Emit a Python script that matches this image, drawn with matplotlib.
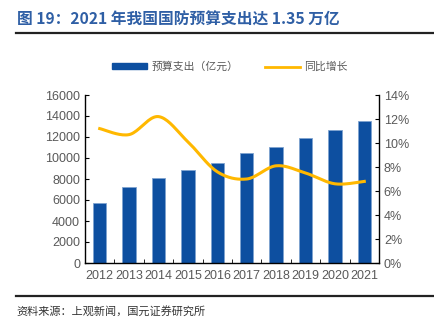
import matplotlib
matplotlib.use("Agg")
import matplotlib.pyplot as plt
import numpy as np
from matplotlib.lines import Line2D
from matplotlib.patches import Patch

plt.rcParams['font.family'] = ['Noto Sans CJK SC', 'DejaVu Sans']

years = ['2012', '2013', '2014', '2015', '2016', '2017', '2018', '2019', '2020', '2021']
budget = [5750, 7200, 8080, 8870, 9540, 10440, 11070, 11900, 12680, 13550]
growth = [11.2, 10.7, 12.2, 10.1, 7.6, 7.0, 8.1, 7.5, 6.6, 6.8]

bar_color = '#0D4FA0'
line_color = '#FFB800'
txt_gray = '#595959'
num_font = ['Liberation Sans', 'DejaVu Sans']

fig = plt.figure(figsize=(4.35, 3.21), dpi=100)
ax = fig.add_axes([85/435, 1-263/321, (379-85)/435, (263-95)/321])
x = np.arange(len(years))
ax.bar(x, budget, width=0.45, color=bar_color, edgecolor='#7FA3D0', linewidth=0.6, zorder=2)
ax.set_xlim(-0.5, len(years)-0.5)
ax.set_ylim(0, 16000)
ax.set_yticks(np.arange(0, 16001, 2000))
ax.set_xticks(x)
ax.set_xticklabels(years)
ax.set_xticks(np.arange(0.5, len(years)-0.5, 1), minor=True)
ax.tick_params(axis='x', which='major', length=0, labelsize=9, colors=txt_gray, pad=5)
ax.tick_params(axis='x', which='minor', direction='in', length=3, color='black')
ax.tick_params(axis='y', direction='in', length=3, labelsize=9, labelcolor=txt_gray, color='black')
for s in ['top', 'right']:
    ax.spines[s].set_visible(False)
for s in ['left', 'bottom']:
    ax.spines[s].set_color('black')
    ax.spines[s].set_linewidth(1)

ax2 = ax.twinx()
ax2.set_ylim(0, 14)
ax2.set_yticks(np.arange(0, 15, 2))
ax2.set_yticklabels([f'{v}%' for v in range(0, 15, 2)])
ax2.tick_params(axis='y', direction='in', length=3, labelsize=9, labelcolor=txt_gray, color='black')
for s in ['top', 'left', 'bottom']:
    ax2.spines[s].set_visible(False)
ax2.spines['right'].set_color('black')
ax2.spines['right'].set_linewidth(1)

for lab in ax.get_xticklabels() + ax.get_yticklabels() + ax2.get_yticklabels():
    lab.set_family(num_font)

# smooth display curve (Catmull-Rom) through the data points
def smooth(xs, ys, n=20):
    xs = np.asarray(xs, float); ys = np.asarray(ys, float)
    P = np.column_stack([xs, ys])
    P = np.vstack([P[0], P, P[-1]])
    out = []
    for i in range(1, len(P)-2):
        p0, p1, p2, p3 = P[i-1], P[i], P[i+1], P[i+2]
        for t in np.linspace(0, 1, n, endpoint=False):
            t2, t3 = t*t, t*t*t
            pt = 0.5*((2*p1) + (-p0+p2)*t + (2*p0-5*p1+4*p2-p3)*t2 + (-p0+3*p1-3*p2+p3)*t3)
            out.append(pt)
    out.append(P[-2])
    out = np.array(out)
    return out[:, 0], out[:, 1]

sx, sy = smooth(x, growth)
ax2.plot(sx, sy, color=line_color, linewidth=2.2, zorder=3)

# legend
handles = [Patch(facecolor=bar_color, edgecolor=bar_color), Line2D([0], [0], color=line_color, lw=2)]
fig.legend(handles, ['预算支出（亿元）', '同比增长'], loc='center', bbox_to_anchor=(230/435, 1-67/321),
           ncol=2, frameon=False, fontsize=7.8, labelcolor=txt_gray, handlelength=3.2,
           handleheight=0.5, columnspacing=2.5, handletextpad=0.4)

# title and decorative lines
fig.text(17/435, 1-20/321, '图 19：2021 年我国国防预算支出达 1.35 万亿', color='#2F5FA5',
         fontsize=11.3, fontweight='bold', va='center', ha='left')
fig.add_artist(Line2D([16/435, 1], [1-33/321, 1-33/321], color='#222222', lw=1.6))
fig.add_artist(Line2D([16/435, 1], [1-296/321, 1-296/321], color='#222222', lw=1.6))
fig.text(16/435, 1-311/321, '资料来源：上观新闻，国元证券研究所', color='#333333',
         fontsize=8, va='center', ha='left')

fig.savefig('out.png', dpi=100)
